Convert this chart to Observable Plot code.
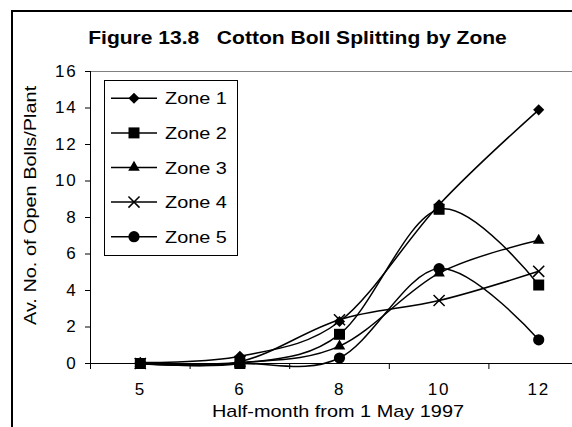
<!DOCTYPE html>
<html>
<head>
<meta charset="utf-8">
<script src="https://cdn.jsdelivr.net/npm/d3@7"></script>
<script src="https://cdn.jsdelivr.net/npm/@observablehq/plot@0.6"></script>
<style>
  html, body { margin: 0; padding: 0; background: #fff; overflow: hidden; }
  #chart svg { display: block; }
</style>
</head>
<body>
<div id="chart"></div>
<script>
// ---- data ----
const categories = ["5", "6", "8", "10", "12"];
const zones = ["Zone 1", "Zone 2", "Zone 3", "Zone 4", "Zone 5"];
const zone1 = [0.05, 0.4, 2.3, 8.7, 13.9];
const zone2 = [0.0, 0.0, 1.6, 8.45, 4.3];
const zone3 = [0.0, 0.05, 0.95, 4.95, 6.75];
const zone4 = [0.0, 0.1, 2.4, 3.45, 5.05];
const zone5 = [0.0, 0.0, 0.3, 5.2, 1.3];
const yTicks = [0, 2, 4, 6, 8, 10, 12, 14, 16];
const chartTitle = "Figure 13.8   Cotton Boll Splitting by Zone";
const xLabel = "Half-month from 1 May 1997";
const yLabel = "Av. No. of Open Bolls/Plant";

// ---- styles ----
const symbols = ["diamond2", "square", "triangle", "times", "circle"];
const symbolR = [5, 6.2, 4.3, 5.1, 5.6];
const FONT = "'Liberation Sans', Arial, sans-serif";
const STRETCH = 1.17; // the source's lettering is set wide

const series = [zone1, zone2, zone3, zone4, zone5];
const data = series.flatMap((vals, s) =>
  vals.map((v, i) => ({zone: zones[s], i, value: v})));

const W = 572, H = 427;
const plotLeft = 90, plotTop = 71, plotBottom = 363, catW = 99.6;

const dots = zones.map((z, s) =>
  Plot.dot(data.filter(d => d.zone === z), {
    x: "i", y: "value",
    symbol: symbols[s],
    r: symbolR[s],
    fill: s === 3 ? "none" : "black",
    stroke: s === 3 ? "black" : "none",
    strokeWidth: 1.5
  }));

const plot = Plot.plot({
  width: W, height: H,
  marginLeft: plotLeft, marginTop: plotTop, marginBottom: H - plotBottom, marginRight: 0,
  style: {fontFamily: FONT, fontSize: "17px", background: "#fff", color: "#000", overflow: "hidden"},
  x: {type: "linear", domain: [-0.5, categories.length - 0.5], range: [plotLeft, plotLeft + catW * categories.length]},
  y: {domain: [0, 16]},
  marks: [
    Plot.ruleY([16], {stroke: "#808080", strokeWidth: 1}),
    Plot.axisY({ticks: yTicks, tickSize: 5, tickPadding: 8, label: null, stroke: "#000"}),
    Plot.axisX({ticks: d3.range(-0.5, categories.length, 1), tickSize: 6, tickFormat: () => "", label: null}),
    Plot.axisX({ticks: d3.range(0, categories.length), tickSize: 0, tickPadding: 19,
                tickFormat: i => categories[i], label: null}),
    Plot.ruleX([-0.5], {stroke: "#000"}),
    Plot.ruleY([0], {stroke: "#000"}),
    Plot.line(data, {x: "i", y: "value", z: "zone", curve: "cardinal", stroke: "black", strokeWidth: 1.5}),
    ...dots
  ]
});

const svg = d3.select(plot);
// axis tick labels: wide lettering via spacing
svg.selectAll("text").style("letter-spacing", "1.8px");

// outer frame
svg.append("path")
  .attr("d", `M12,${H} V11 H${W}`)
  .attr("fill", "none").attr("stroke", "#000").attr("stroke-width", 2);

// helper: horizontally widened text placed at (x, y), optional rotation
function wideText(parent, x, y, str, font, anchor, rotate) {
  return parent.append("text")
    .attr("transform", `translate(${x},${y})${rotate ? ` rotate(${rotate})` : ""} scale(${STRETCH},1)`)
    .attr("text-anchor", anchor)
    .style("font", font)
    .style("letter-spacing", "0px")
    .text(str);
}

// title
wideText(svg, 297.5, 44, chartTitle, `bold 18px ${FONT}`, "middle");
// x label
wideText(svg, 338, 417, xLabel, `17px ${FONT}`, "middle");
// y label
wideText(svg, 36, 325, yLabel, `17px ${FONT}`, "start", -90);

// legend
const lg = svg.append("g");
lg.append("rect")
  .attr("x", 104.5).attr("y", 80.5).attr("width", 133).attr("height", 175)
  .attr("fill", "#fff").attr("stroke", "#000").attr("stroke-width", 1);
const symMap = {diamond2: d3.symbolDiamond2, square: d3.symbolSquare, triangle: d3.symbolTriangle,
                times: d3.symbolTimes, circle: d3.symbolCircle};
zones.forEach((z, s) => {
  const cy = 98.3 + s * 34.6;
  lg.append("line").attr("x1", 111).attr("x2", 157).attr("y1", cy).attr("y2", cy)
    .attr("stroke", "#000").attr("stroke-width", 1.5);
  lg.append("path")
    .attr("transform", `translate(134,${cy})`)
    .attr("d", d3.symbol(symMap[symbols[s]], Math.PI * symbolR[s] ** 2)())
    .attr("fill", s === 3 ? "none" : "#000")
    .attr("stroke", s === 3 ? "#000" : "none")
    .attr("stroke-width", 1.5);
  wideText(lg, 165, cy + 6, z, `17px ${FONT}`, "start");
});

document.getElementById("chart").appendChild(plot);
</script>
</body>
</html>
